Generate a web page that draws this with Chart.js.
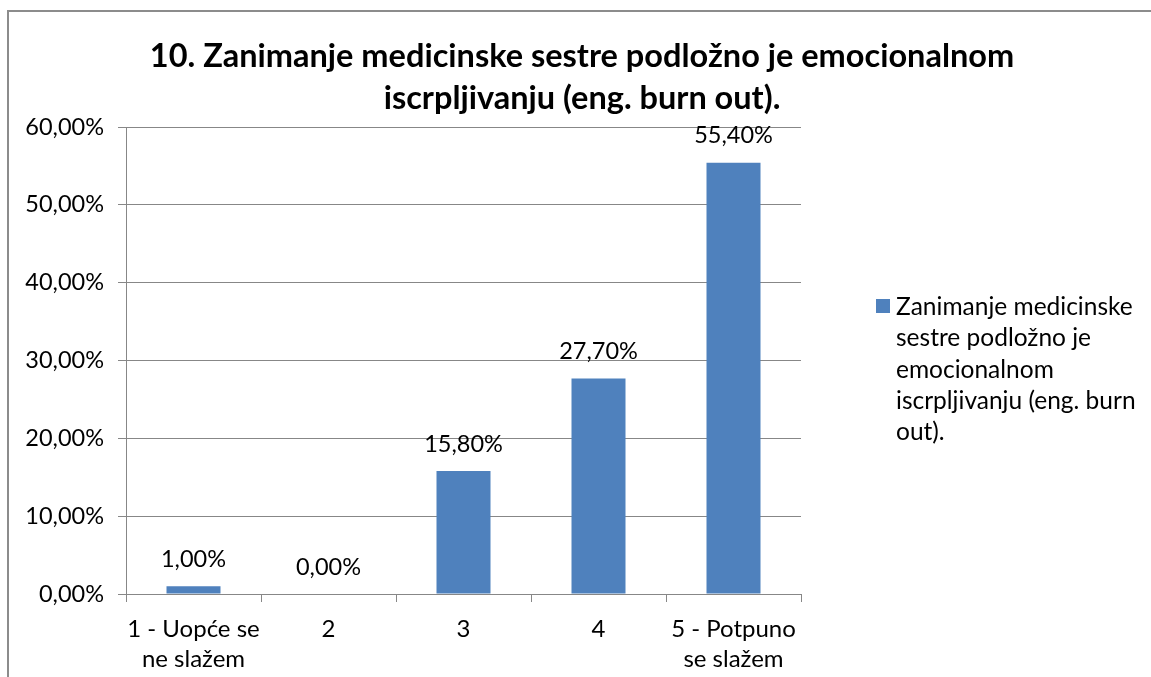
<!DOCTYPE html>
<html>
<head>
<meta charset="utf-8">
<script src="https://cdn.jsdelivr.net/npm/chart.js@4.4.1/dist/chart.umd.min.js"></script>
<style>
    html, body { margin: 0; padding: 0; background: #fff; }
    #wrap { position: relative; width: 1151px; height: 677px; overflow: hidden; }
    #frame { position: absolute; left: 7px; top: 10px; width: 1200px; height: 700px; border-left: 2px solid #8c8c8c; border-top: 2px solid #8c8c8c; box-sizing: border-box; }
    canvas { position: absolute; left: 0; top: 0; }
</style>
</head>
<body>
<div id="wrap">
    <div id="frame"></div>
    <canvas id="chart" width="1151" height="677"></canvas>
</div>
<script>
// Данные графика
const categories = [['1 - Uopće se', 'ne slažem'], '2', '3', '4', ['5 - Potpuno', 'se slažem']];
const values = [0.01, 0.0, 0.158, 0.277, 0.554];
const seriesName = 'Zanimanje medicinske sestre podložno je emocionalnom iscrpljivanju (eng. burn out).';
const legendLines = ['Zanimanje medicinske', 'sestre podložno je', 'emocionalnom', 'iscrpljivanju (eng. burn', 'out).'];
const titleLines = ['10. Zanimanje medicinske sestre podložno je emocionalnom', 'iscrpljivanju (eng. burn out).'];
const yTicks = [0, 0.1, 0.2, 0.3, 0.4, 0.5, 0.6];

const FONT = 'Lato, "Liberation Sans", sans-serif';
const barColor = '#4F81BD';
const gridColor = '#878787';

const fmtPct = v => (v * 100).toFixed(2).replace('.', ',') + '%';

// Заголовок, подписи значений и легенда
const decorPlugin = {
    id: 'decor',
    afterDraw(chart) {
        const ctx = chart.ctx;
        ctx.save();
        ctx.fillStyle = '#000';

        // Заголовок
        ctx.font = 'bold 32.5px ' + FONT;
        ctx.textAlign = 'center';
        ctx.textBaseline = 'middle';
        ctx.fillText(titleLines[0], 582, 57);
        ctx.fillText(titleLines[1], 582, 99);

        // Подписи над столбцами
        ctx.font = '23.5px ' + FONT;
        const meta = chart.getDatasetMeta(0);
        meta.data.forEach((bar, i) => {
            ctx.fillText(fmtPct(values[i]), bar.x, bar.y - 27);
        });

        // Легенда
        ctx.fillStyle = barColor;
        ctx.fillRect(876, 299, 14, 14);
        ctx.fillStyle = '#000';
        ctx.textAlign = 'left';
        ctx.font = '24.5px ' + FONT;
        legendLines.forEach((line, i) => {
            ctx.fillText(line, 896, 307 + i * 31.3);
        });
        ctx.restore();
    }
};

new Chart(document.getElementById('chart'), {
    type: 'bar',
    data: {
        labels: categories,
        datasets: [{
            label: seriesName,
            data: values,
            backgroundColor: barColor,
            barPercentage: 0.4,
            categoryPercentage: 1.0
        }]
    },
    options: {
        responsive: false,
        animation: false,
        layout: { padding: { left: 8, top: 127, right: 350, bottom: 0 } },
        plugins: {
            legend: { display: false },
            title: { display: false },
            tooltip: { enabled: false }
        },
        scales: {
            x: {
                grid: {
                    offset: true,
                    drawOnChartArea: false,
                    drawTicks: true,
                    tickLength: 8,
                    color: gridColor
                },
                border: { color: gridColor },
                ticks: {
                    color: '#000',
                    font: { family: FONT, size: 24, lineHeight: 1.25 },
                    padding: 12,
                    maxRotation: 0,
                    autoSkip: false
                },
                afterFit: s => { s.height = 83; }
            },
            y: {
                min: 0,
                max: 0.6,
                afterBuildTicks: s => { s.ticks = yTicks.map(v => ({ value: v })); },
                grid: {
                    color: gridColor,
                    drawTicks: true,
                    tickLength: 8
                },
                border: { color: gridColor },
                ticks: {
                    color: '#000',
                    font: { family: FONT, size: 23.5 },
                    padding: 14,
                    callback: v => fmtPct(v)
                },
                afterFit: s => { s.width = 118; }
            }
        }
    },
    plugins: [decorPlugin]
});
</script>
</body>
</html>
